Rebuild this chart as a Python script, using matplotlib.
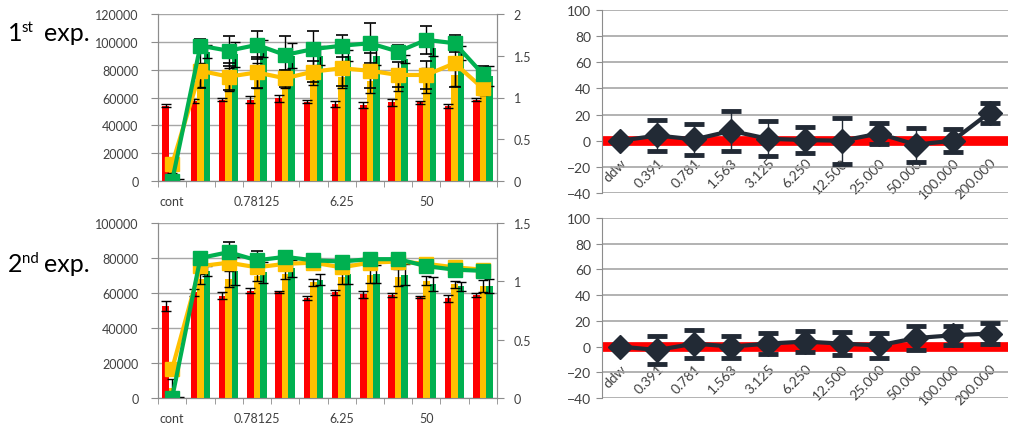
import numpy as np
import matplotlib
matplotlib.use("Agg")
import matplotlib.pyplot as plt

# ---- data -------------------------------------------------------------
conc_labels = ["cont", "0.1953125", "0.390625", "0.78125", "1.5625", "3.125",
               "6.25", "12.5", "25", "50", "100", "200"]
shown_label_idx = [0, 3, 6, 9]

exp1_red = [54000, 57500, 58500, 58500, 59500, 57000, 55500, 54500, 56500, 56500, 54000, 58500]
exp1_red_err = [1000, 1500, 1000, 2500, 2500, 1000, 2000, 2000, 2500, 1000, 1500, 1000]
exp1_orange = [10500, 76000, 73000, 76000, 73000, 74500, 75000, 72000, 72000, 72000, 76000, 64500]
exp1_orange_err = [5000, 8500, 8500, 9000, 6500, 5500, 8000, 8500, 7000, 9000, 7500, 3000]
exp1_green = [300, 93000, 91000, 95000, 90000, 90000, 90000, 90000, 87500, 95500, 92000, 75500]
exp1_green_err = [800, 4500, 9000, 6000, 9000, 7000, 4000, 7000, 3000, 6000, 5000, 7000]
exp1_orange_ratio = [0.20, 1.32, 1.25, 1.30, 1.23, 1.31, 1.35, 1.32, 1.27, 1.27, 1.41, 1.11]
exp1_orange_ratio_err = [0.03, 0.21, 0.16, 0.19, 0.10, 0.13, 0.21, 0.21, 0.15, 0.17, 0.28, 0.05]
exp1_green_ratio = [0.0, 1.62, 1.56, 1.63, 1.51, 1.58, 1.62, 1.65, 1.55, 1.69, 1.65, 1.28]
exp1_green_ratio_err = [0.01, 0.08, 0.18, 0.17, 0.23, 0.22, 0.13, 0.24, 0.08, 0.17, 0.10, 0.10]

exp2_red = [52700, 60400, 58500, 61300, 60400, 57100, 60400, 59400, 59000, 57900, 57100, 59000]
exp2_red_err = [3000, 2000, 1800, 1500, 500, 1200, 1500, 2000, 1200, 500, 2000, 1000]
exp2_orange = [6000, 68000, 68000, 69900, 70900, 66100, 69000, 70300, 69000, 67000, 65100, 64200]
exp2_orange_err = [5000, 3000, 4500, 3000, 3000, 2000, 4000, 4500, 5000, 2500, 2000, 3500]
exp2_green = [300, 72700, 72700, 71800, 74100, 67600, 70900, 70900, 70500, 65100, 63800, 64200]
exp2_green_err = [500, 3000, 8000, 6000, 5000, 3000, 5500, 5000, 6000, 4000, 2500, 4000]
exp2_orange_ratio = [0.25, 1.13, 1.16, 1.12, 1.15, 1.16, 1.12, 1.16, 1.17, 1.15, 1.12, 1.10]
exp2_green_ratio = [0.0, 1.20, 1.25, 1.18, 1.21, 1.18, 1.17, 1.19, 1.19, 1.13, 1.10, 1.09]
exp2_green_ratio_err = [0.01, 0.05, 0.09, 0.08, 0.03, 0.02, 0.04, 0.03, 0.05, 0.02, 0.03, 0.04]

dose_labels = ["ddw", "0.391", "0.781", "1.563", "3.125", "6.250",
               "12.500", "25.000", "50.000", "100.000", "200.000"]
exp1_diff = [0, 4, 1, 7.5, 1.5, 0.5, 0, 5.5, -3, 0, 21.5]
exp1_diff_err = [0, 12, 12, 15.5, 13.5, 9.7, 17.5, 7.7, 13, 8.8, 7.6]
exp2_diff = [0, -2.7, 2.3, 0, 2.3, 3.9, 2.3, 0.9, 6.6, 8.8, 10.1]
exp2_diff_err = [0, 11, 10.9, 8.5, 8, 8.3, 8.8, 9.5, 9.5, 7.3, 8]

# ---- style ------------------------------------------------------------
RED, ORANGE, GREEN = "#FF0000", "#FFC000", "#00B050"
DARK = "#222A35"
AXIS_GRAY = "#8C8C8C"
GRID_GRAY = "#A6A6A6"
TEXT_GRAY = "#404040"
plt.rcParams["font.family"] = ["Lato", "DejaVu Sans"]

W, H = 1011, 435
fig = plt.figure(figsize=(W / 100, H / 100), dpi=100)


def box(x0, y0, x1, y1):
    return [x0 / W, 1 - y1 / H, (x1 - x0) / W, (y1 - y0) / H]


def bar_panel(rect, ymax, y2max, y2ticks, red, red_e, org, org_e, grn, grn_e,
              org_r, org_r_e, grn_r, grn_r_e):
    ax = fig.add_axes(rect)
    n = len(conc_labels)
    x = np.arange(n)
    w = 0.23
    ekw = dict(ecolor="black", elinewidth=1, capsize=3.5, capthick=1)
    ax.bar(x - w, red, w, color=RED, yerr=red_e, error_kw=ekw, zorder=3)
    ax.bar(x, org, w, color=ORANGE, yerr=org_e, error_kw=ekw, zorder=3)
    ax.bar(x + w, grn, w, color=GREEN, yerr=grn_e, error_kw=ekw, zorder=3)
    ax.set_xlim(-0.5, n - 0.5)
    ax.set_ylim(0, ymax)
    ax.set_yticks(np.arange(0, ymax + 1, 20000))
    ax.yaxis.grid(True, color=GRID_GRAY, lw=1)
    ax.set_axisbelow(True)
    ax.set_xticks(shown_label_idx)
    ax.set_xticklabels([conc_labels[i] for i in shown_label_idx])
    ax.set_xticks(np.arange(-0.5, n, 1), minor=True)
    ax.tick_params(axis="x", which="major", length=0, pad=10, labelsize=9,
                   labelcolor=TEXT_GRAY)
    ax.tick_params(axis="x", which="minor", length=4, color=AXIS_GRAY)
    ax.tick_params(axis="y", length=5, color=AXIS_GRAY, pad=9, labelsize=9,
                   labelcolor=TEXT_GRAY)
    ax.spines["top"].set_visible(False)
    for s in ("left", "bottom", "right"):
        ax.spines[s].set_color(AXIS_GRAY)

    ax2 = ax.twinx()
    ax2.set_ylim(0, y2max)
    ax2.set_yticks(y2ticks)
    ax2.set_yticklabels([f"{t:g}" for t in y2ticks])
    ax2.tick_params(axis="y", length=5, color=AXIS_GRAY, pad=7, labelsize=9,
                    labelcolor=TEXT_GRAY)
    ax2.spines["top"].set_visible(False)
    for s in ("left", "bottom", "right"):
        ax2.spines[s].set_color(AXIS_GRAY)
    lkw = dict(ecolor="black", elinewidth=1, capsize=4, capthick=1.2,
               lw=3, markersize=9.5, marker="s")
    ax2.errorbar(x, org_r, yerr=org_r_e, color=ORANGE, **lkw)
    ax2.errorbar(x, grn_r, yerr=grn_r_e, color=GREEN, **lkw)
    return ax


bar_panel(box(158, 15, 497, 182), 120000, 2, [0, 0.5, 1, 1.5, 2],
          exp1_red, exp1_red_err, exp1_orange, exp1_orange_err,
          exp1_green, exp1_green_err,
          exp1_orange_ratio, exp1_orange_ratio_err,
          exp1_green_ratio, exp1_green_ratio_err)
bar_panel(box(158, 224, 497, 399), 100000, 1.5, [0, 0.5, 1, 1.5],
          exp2_red, exp2_red_err, exp2_orange, exp2_orange_err,
          exp2_green, exp2_green_err,
          exp2_orange_ratio, [0] * len(exp2_orange_ratio),
          exp2_green_ratio, exp2_green_ratio_err)


def diff_panel(rect, vals, errs):
    ax = fig.add_axes(rect)
    n = len(dose_labels)
    x = np.arange(n)
    ax.set_xlim(-0.5, n - 0.5)
    ax.set_ylim(-40, 100)
    ax.set_yticks(np.arange(-40, 101, 20))
    ax.yaxis.grid(True, color=GRID_GRAY, lw=1.2)
    ax.set_axisbelow(True)
    ax.axhline(0, color=RED, lw=7, zorder=2)
    ax.errorbar(x, vals, yerr=errs, color=DARK, lw=3, marker="D",
                markersize=12, ecolor=DARK, elinewidth=1, capsize=7,
                capthick=3.5, zorder=4)
    ax.spines["bottom"].set_position(("data", 0))
    ax.spines["bottom"].set_visible(False)
    for s in ("top", "right"):
        ax.spines[s].set_visible(False)
    ax.spines["left"].set_color(AXIS_GRAY)
    ax.set_xticks(x)
    ax.set_xticklabels(dose_labels, rotation=45, ha="right",
                       rotation_mode="anchor")
    ax.tick_params(axis="x", length=0, pad=11, labelsize=10,
                   labelcolor=TEXT_GRAY)
    ax.tick_params(axis="y", length=4, color=AXIS_GRAY, pad=4, labelsize=10,
                   labelcolor=TEXT_GRAY)
    return ax


diff_panel(box(602, 11, 1008, 194), exp1_diff, exp1_diff_err)
diff_panel(box(602, 219, 1008, 399), exp2_diff, exp2_diff_err)


# ---- panel titles ----------------------------------------------------
def title(x, y, num, sup, size=18):
    fig.text(x / W, 1 - y / H, num, fontsize=size, color="black",
             va="baseline", ha="left")
    fig.text((x + 14) / W, 1 - (y - 9) / H, sup, fontsize=size * 0.6,
             color="black", va="baseline", ha="left")
    fig.text((x + 36) / W, 1 - y / H, "exp.", fontsize=size, color="black",
             va="baseline", ha="left")


title(8, 41, "1", "st")
title(8, 272, "2", "nd")

fig.savefig("out.png", dpi=100)
